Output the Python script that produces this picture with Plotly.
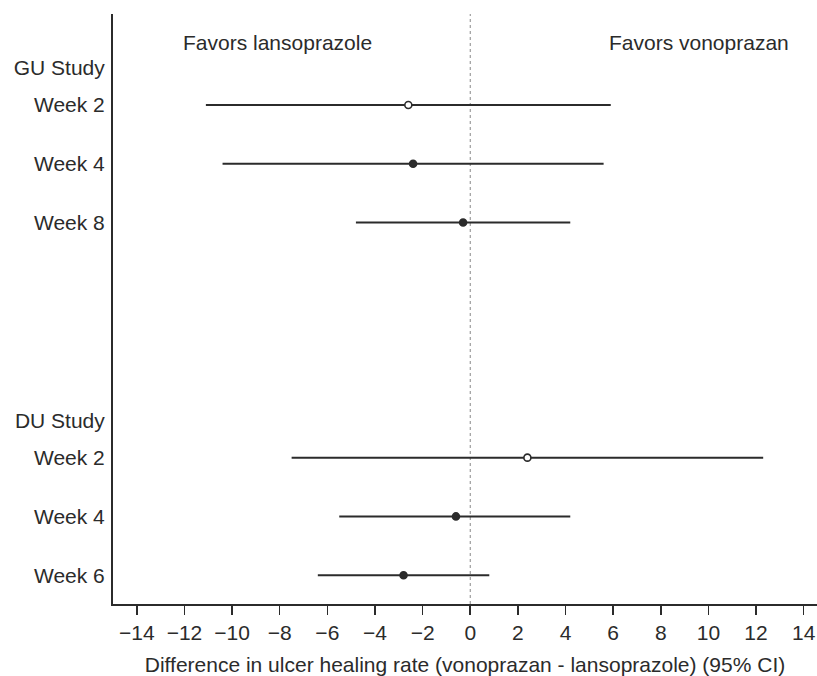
import plotly.graph_objects as go

# ---- data ----
studies = ["GU Study", "DU Study"]
gu_weeks = ["Week 2", "Week 4", "Week 8"]
du_weeks = ["Week 2", "Week 4", "Week 6"]
gu_est = [-2.6, -2.4, -0.3]
gu_lower = [-11.1, -10.4, -4.8]
gu_upper = [5.9, 5.6, 4.2]
gu_open = [True, False, False]
du_est = [2.4, -0.6, -2.8]
du_lower = [-7.5, -5.5, -6.4]
du_upper = [12.3, 4.2, 0.8]
du_open = [True, False, False]
x_ticks = list(range(-14, 15, 2))
x_title = "Difference in ulcer healing rate (vonoprazan - lansoprazole) (95% CI)"
left_label = "Favors lansoprazole"
right_label = "Favors vonoprazan"

INK = "#2b2b2b"
FONT = "Liberation Sans, Arial, Helvetica, sans-serif"
FS = 21

# row positions (reversed y axis)
gu_rows = [0, 1, 2]
du_rows = [6, 7, 8]
head_off = 0.63

fig = go.Figure()

for est, lo, hi, opn, rows in [
    (gu_est, gu_lower, gu_upper, gu_open, gu_rows),
    (du_est, du_lower, du_upper, du_open, du_rows),
]:
    fig.add_trace(go.Scatter(
        x=est, y=rows, mode="markers",
        marker=dict(symbol="circle", size=7,
                    color=["white" if o else INK for o in opn],
                    line=dict(color=INK, width=1.6)),
        error_x=dict(type="data", symmetric=False,
                     array=[h - e for h, e in zip(hi, est)],
                     arrayminus=[e - l for e, l in zip(est, lo)],
                     color=INK, thickness=2, width=0),
        showlegend=False, hoverinfo="skip",
    ))

tickvals = [gu_rows[0] - head_off] + gu_rows + [du_rows[0] - head_off] + du_rows
ticktext = [studies[0]] + gu_weeks + [studies[1]] + du_weeks

# vertical dotted reference line at 0
fig.add_shape(type="line", x0=0, x1=0, y0=0, y1=1, xref="x", yref="paper",
              line=dict(color="#888888", width=1, dash="dot"), layer="below")

fig.add_annotation(x=-8.1, y=1.0, xref="x", yref="paper", yanchor="bottom",
                   yshift=-42, text=left_label, showarrow=False,
                   font=dict(family=FONT, size=FS, color=INK))
fig.add_annotation(x=9.6, y=1.0, xref="x", yref="paper", yanchor="bottom",
                   yshift=-42, text=right_label, showarrow=False,
                   font=dict(family=FONT, size=FS, color=INK))

fig.update_layout(
    width=817, height=676,
    margin=dict(l=113, r=0, t=14, b=72),
    paper_bgcolor="white", plot_bgcolor="white",
    font=dict(family=FONT, size=FS, color=INK),
    xaxis=dict(range=[-15, 14.56], tickvals=x_ticks, showgrid=False, zeroline=False,
               showline=True, linecolor=INK, linewidth=2,
               ticks="outside", ticklen=9, tickwidth=1.5, tickcolor=INK,
               tickfont=dict(size=FS), automargin=False,
               title=dict(text=x_title, standoff=17, font=dict(size=FS))),
    yaxis=dict(range=[8.49, -1.548], tickvals=tickvals, ticktext=ticktext,
               showgrid=False, zeroline=False, showline=True, linecolor=INK,
               linewidth=2, ticks="", ticklabelstandoff=2, automargin=False,
               tickfont=dict(size=FS)),
)

fig.write_html("out.html", config={"displayModeBar": False, "staticPlot": True},
               post_script="document.body.style.margin='0';document.body.style.overflow='hidden';")
